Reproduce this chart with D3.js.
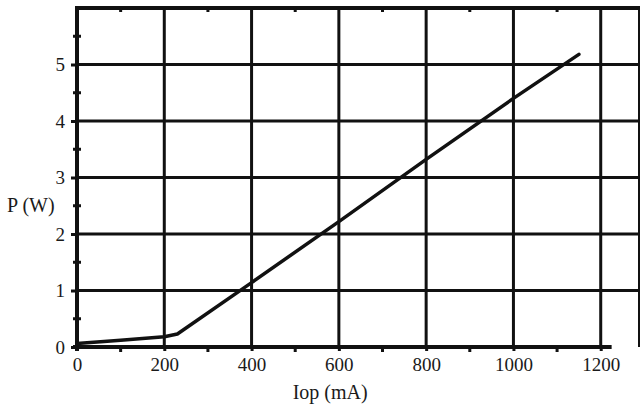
<!DOCTYPE html>
<html>
<head>
<meta charset="utf-8">
<script src="https://cdn.jsdelivr.net/npm/d3@7"></script>
<style>
  body { margin: 0; background: #fff; }
  svg { display: block; }
</style>
</head>
<body>
<script>
// Laser output power vs operating current
var iop = [0, 100, 200, 230, 400, 600, 800, 1000, 1150];
var power = [0.06, 0.12, 0.18, 0.23, 1.14, 2.22, 3.32, 4.4, 5.18];

var xTicks = [0, 200, 400, 600, 800, 1000, 1200];
var yTicks = [0, 1, 2, 3, 4, 5];
var xMinor = d3.range(100, 1300, 200);
var yMinor = d3.range(0.5, 6, 1);

var W = 642, H = 408;
var margin = {top: 8, right: 2, bottom: 61, left: 77};
var serif = "Liberation Serif";

var x = d3.scaleLinear().domain([0, 1290]).range([margin.left, W - margin.right]);
var y = d3.scaleLinear().domain([0, 6]).range([H - margin.bottom, margin.top]);

var svg = d3.select("body").append("svg")
  .attr("width", W)
  .attr("height", H);

var ink = "#111";

// grid
svg.append("g")
  .selectAll("line")
  .data(xTicks.slice(1))
  .join("line")
    .attr("x1", function(d) { return x(d); })
    .attr("x2", function(d) { return x(d); })
    .attr("y1", y(0))
    .attr("y2", y(6))
    .attr("stroke", ink)
    .attr("stroke-width", 3);

svg.append("g")
  .selectAll("line")
  .data(yTicks.slice(1))
  .join("line")
    .attr("x1", x(0))
    .attr("x2", x(1290))
    .attr("y1", function(d) { return y(d); })
    .attr("y2", function(d) { return y(d); })
    .attr("stroke", ink)
    .attr("stroke-width", 3);

// frame: top and right border
svg.append("line")
  .attr("x1", x(0) - 2).attr("x2", x(1290))
  .attr("y1", y(6)).attr("y2", y(6))
  .attr("stroke", ink).attr("stroke-width", 4);
svg.append("line")
  .attr("x1", x(1290) - 1).attr("x2", x(1290) - 1)
  .attr("y1", y(6)).attr("y2", y(0))
  .attr("stroke", ink).attr("stroke-width", 2);

// minor ticks
svg.append("g")
  .selectAll("line")
  .data(xMinor)
  .join("line")
    .attr("x1", function(d) { return x(d); })
    .attr("x2", function(d) { return x(d); })
    .attr("y1", y(0))
    .attr("y2", y(0) + 5)
    .attr("stroke", ink)
    .attr("stroke-width", 3);

svg.append("g")
  .selectAll("line")
  .data(xMinor)
  .join("line")
    .attr("x1", function(d) { return x(d); })
    .attr("x2", function(d) { return x(d); })
    .attr("y1", y(6))
    .attr("y2", y(6) + 4)
    .attr("stroke", ink)
    .attr("stroke-width", 3);

svg.append("g")
  .selectAll("line")
  .data(yMinor)
  .join("line")
    .attr("x1", x(0) - 4)
    .attr("x2", x(0) + 4)
    .attr("y1", function(d) { return y(d); })
    .attr("y2", function(d) { return y(d); })
    .attr("stroke", ink)
    .attr("stroke-width", 3);

// axes
var xAxis = d3.axisBottom(x)
  .tickValues(xTicks)
  .tickSize(4)
  .tickPadding(7)
  .tickFormat(d3.format("d"));

var yAxis = d3.axisLeft(y)
  .tickValues(yTicks)
  .tickSize(6)
  .tickPadding(6)
  .tickFormat(d3.format("d"));

var gx = svg.append("g")
  .attr("transform", "translate(0," + y(0) + ")")
  .call(xAxis)
  .attr("font-family", serif)
  .attr("font-size", 19);
gx.select(".domain").remove();
gx.selectAll(".tick line").attr("stroke", ink).attr("stroke-width", 3);
gx.selectAll(".tick text").attr("fill", "#1a1a1a");

var gy = svg.append("g")
  .attr("transform", "translate(" + x(0) + ",0)")
  .call(yAxis)
  .attr("font-family", serif)
  .attr("font-size", 19);
gy.select(".domain").remove();
gy.selectAll(".tick line").attr("stroke", ink).attr("stroke-width", 3);
gy.selectAll(".tick text").attr("fill", "#1a1a1a");

// heavy axis lines
svg.append("line")
  .attr("x1", x(0) - 4).attr("x2", x(1225))
  .attr("y1", y(0)).attr("y2", y(0))
  .attr("stroke", ink).attr("stroke-width", 4);
svg.append("line")
  .attr("x1", x(0)).attr("x2", x(0))
  .attr("y1", y(6) - 1).attr("y2", y(0) + 4)
  .attr("stroke", ink).attr("stroke-width", 4);

// curve
var line = d3.line()
  .x(function(d, i) { return x(iop[i]); })
  .y(function(d) { return y(d); });

svg.append("path")
  .attr("d", line(power))
  .attr("fill", "none")
  .attr("stroke", ink)
  .attr("stroke-width", 3.5)
  .attr("stroke-linecap", "round")
  .attr("stroke-linejoin", "round");

// axis titles
svg.append("text")
  .attr("font-family", serif)
  .attr("font-size", 20)
  .attr("fill", "#1a1a1a")
  .attr("x", 7)
  .attr("y", y(2.5) + 6)
  .text("P (W)");

svg.append("text")
  .attr("font-family", serif)
  .attr("font-size", 20)
  .attr("fill", "#1a1a1a")
  .attr("x", x(580))
  .attr("y", H - 9)
  .attr("text-anchor", "middle")
  .text("Iop (mA)");
</script>
</body>
</html>
